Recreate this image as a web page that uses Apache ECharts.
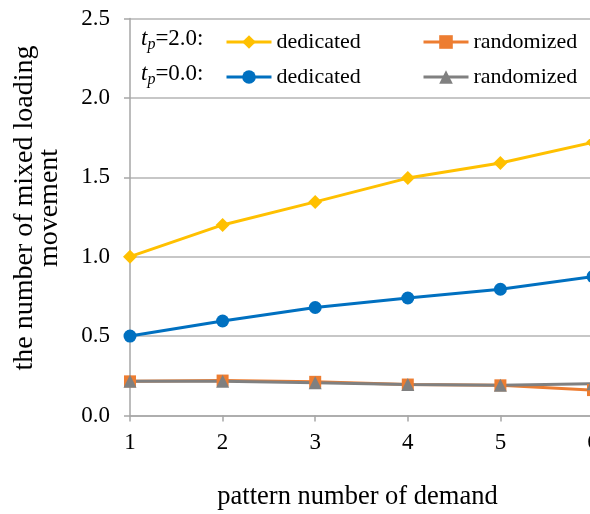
<!DOCTYPE html>
<html>
<head>
<meta charset="utf-8">
<script src="https://cdn.jsdelivr.net/npm/echarts@6/dist/echarts.min.js"></script>
<style>
html,body{margin:0;padding:0;background:#fff;}
#chart{width:590px;height:514px;}
</style>
</head>
<body>
<div id="chart"></div>
<script>
var categories = ['1', '2', '3', '4', '5', '6'];
var dedicatedTp20 = [1.00, 1.20, 1.345, 1.495, 1.59, 1.72];
var randomizedTp20 = [0.215, 0.22, 0.212, 0.195, 0.19, 0.16];
var dedicatedTp00 = [0.50, 0.595, 0.68, 0.74, 0.795, 0.875];
var randomizedTp00 = [0.215, 0.215, 0.207, 0.195, 0.19, 0.20];

var FONT = 'Liberation Serif';
var chart = echarts.init(document.getElementById('chart'));

function legendAt(name, left, top) {
  return {
    data: [name], left: left, top: top, orient: 'horizontal',
    itemWidth: 45, itemHeight: 17, itemGap: 5, padding: 0,
    lineStyle: {width: 3},
    textStyle: {fontFamily: FONT, fontSize: 22, color: '#000'},
    formatter: function (n) { return n.split('|')[1]; }
  };
}
function tpLabel(txt, top) {
  return {type: 'text', left: 141, top: top, style: {
    text: '{i|t}{s|p}{n|' + txt + '}',
    rich: {
      i: {fontFamily: FONT, fontSize: 23, fontStyle: 'italic', fill: '#000'},
      s: {fontFamily: FONT, fontSize: 16, fontStyle: 'italic', fill: '#000', padding: [12, 0, 0, 0]},
      n: {fontFamily: FONT, fontSize: 23, fill: '#000'}
    }
  }};
}

var option = {
  backgroundColor: '#fff',
  animation: false,
  grid: {left: 130, width: 463, top: 18.5, bottom: 98.5, containLabel: false, outerBoundsMode: 'none'},
  legend: [
    legendAt('tp2|dedicated', 225, 31),
    legendAt('tp2|randomized', 422, 31),
    legendAt('tp0|dedicated', 225, 66),
    legendAt('tp0|randomized', 422, 66)
  ],
  graphic: [
    tpLabel('=2.0:', 27),
    tpLabel('=0.0:', 62),
    {type: 'text', x: 37, y: 208, rotation: Math.PI / 2, style: {
      text: 'the number of mixed loading\nmovement',
      fontFamily: FONT, fontSize: 28, lineHeight: 25, fill: '#000',
      align: 'center', verticalAlign: 'middle'
    }}
  ],
  xAxis: {
    type: 'category', data: categories, boundaryGap: false,
    name: 'pattern number of demand', nameLocation: 'middle', nameGap: 68,
    nameTextStyle: {fontFamily: FONT, fontSize: 26.5, color: '#000', padding: [0, 8, 0, 0]},
    axisLine: {lineStyle: {color: '#a6a6a6', width: 1.5}},
    axisTick: {show: true, length: 6, lineStyle: {color: '#a6a6a6', width: 1.5}},
    axisLabel: {fontFamily: FONT, fontSize: 23, color: '#000', margin: 16},
    splitLine: {show: false}
  },
  yAxis: {
    type: 'value', min: 0, max: 2.5, interval: 0.5,
    axisLine: {show: true, lineStyle: {color: '#a6a6a6', width: 1.5}},
    axisTick: {show: true, length: 6, lineStyle: {color: '#a6a6a6', width: 1.5}},
    axisLabel: {fontFamily: FONT, fontSize: 23, color: '#000', margin: 20,
      formatter: function (v) { return v.toFixed(1); }},
    splitLine: {show: true, lineStyle: {color: '#b4b4b4', width: 1.5}}
  },
  series: [
    {name: 'tp2|dedicated', type: 'line', data: dedicatedTp20, symbol: 'diamond', symbolSize: 14,
      itemStyle: {color: '#FFC000'}, lineStyle: {color: '#FFC000', width: 3}},
    {name: 'tp2|randomized', type: 'line', data: randomizedTp20, symbol: 'rect', symbolSize: 12,
      itemStyle: {color: '#ED7D31'}, lineStyle: {color: '#ED7D31', width: 3}},
    {name: 'tp0|dedicated', type: 'line', data: dedicatedTp00, symbol: 'circle', symbolSize: 13,
      itemStyle: {color: '#0070C0'}, lineStyle: {color: '#0070C0', width: 3}},
    {name: 'tp0|randomized', type: 'line', data: randomizedTp00, symbol: 'triangle', symbolSize: 13,
      itemStyle: {color: '#808080'}, lineStyle: {color: '#808080', width: 3}}
  ]
};
chart.setOption(option);
</script>
</body>
</html>
